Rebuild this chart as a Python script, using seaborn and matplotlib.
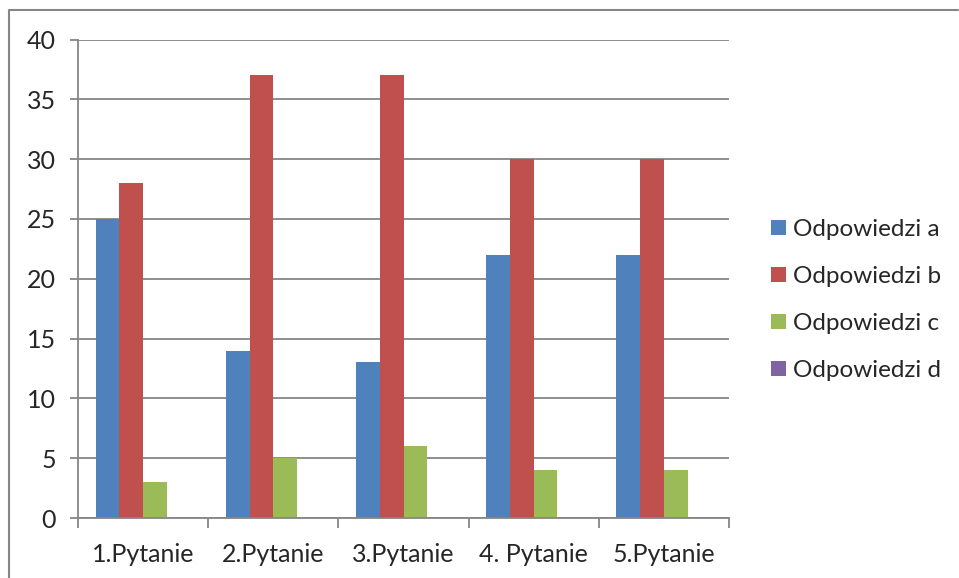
import matplotlib
matplotlib.use("Agg")
import matplotlib.pyplot as plt
from matplotlib.lines import Line2D
import pandas as pd
import seaborn as sns

categories = ["1.Pytanie", "2.Pytanie", "3.Pytanie", "4. Pytanie", "5.Pytanie"]
series_names = ["Odpowiedzi a", "Odpowiedzi b", "Odpowiedzi c", "Odpowiedzi d"]
odp_a = [25, 14, 13, 22, 22]
odp_b = [28, 37, 37, 30, 30]
odp_c = [3, 5, 6, 4, 4]
odp_d = [0, 0, 0, 0, 0]
y_ticks = [0, 5, 10, 15, 20, 25, 30, 35, 40]

colors = ["#4F81BD", "#C0504D", "#9BBB59", "#8064A2"]
grid_col = "#868686"

rows = []
for name, vals in zip(series_names, [odp_a, odp_b, odp_c, odp_d]):
    for cat, v in zip(categories, vals):
        rows.append({"pytanie": cat, "seria": name, "liczba": v})
df = pd.DataFrame(rows)

sns.set_theme(style="white")
plt.rcParams["font.family"] = ["Lato", "DejaVu Sans"]

fig = plt.figure(figsize=(9.59, 5.78), dpi=100)
ax = fig.add_axes([78 / 959, 1 - 518 / 578, (729 - 78) / 959, (518 - 39.5) / 578])

sns.barplot(data=df, x="pytanie", y="liczba", hue="seria", order=categories,
            hue_order=series_names, palette=colors, width=0.73,
            linewidth=0, saturation=1, ax=ax)

ax.set_ylim(0, 40)
ax.set_xlim(-0.5, len(categories) - 0.5)
ax.set_yticks(y_ticks)
ax.set_yticklabels([str(t) for t in y_ticks], fontsize=18)
ax.yaxis.grid(True, color=grid_col, linewidth=1.3)
ax.set_axisbelow(True)

# major ticks at category boundaries, labels at centers
ax.set_xticks([i - 0.5 for i in range(len(categories) + 1)])
ax.set_xticklabels([])
ax.set_xticks(range(len(categories)), minor=True)
ax.set_xticklabels(categories, minor=True, fontsize=18)
ax.tick_params(axis="x", which="major", direction="out", length=7, width=1.3,
               color=grid_col, bottom=True)
ax.tick_params(axis="x", which="minor", length=0, pad=18)
ax.tick_params(axis="y", direction="out", length=6, width=1.3, color=grid_col,
               left=True, pad=10)

ax.set_xlabel("")
ax.set_ylabel("")
for s in ["top", "right"]:
    ax.spines[s].set_visible(False)
for s in ["left", "bottom"]:
    ax.spines[s].set_color(grid_col)
    ax.spines[s].set_linewidth(1.3)

handles, labels = ax.get_legend_handles_labels()
ax.legend(handles, labels, loc="center left", bbox_to_anchor=(1.05, 0.455),
          frameon=False, fontsize=17.5, handlelength=0.6, handleheight=0.6,
          handletextpad=0.3, labelspacing=1.07, borderaxespad=0)

# outer chart border (only top and left visible in the crop)
fig.add_artist(Line2D([9 / 959, 9 / 959, 958 / 959], [0, 1 - 10 / 578, 1 - 10 / 578],
                      transform=fig.transFigure, color=grid_col, linewidth=1.5))

fig.savefig("out.png", dpi=100)
